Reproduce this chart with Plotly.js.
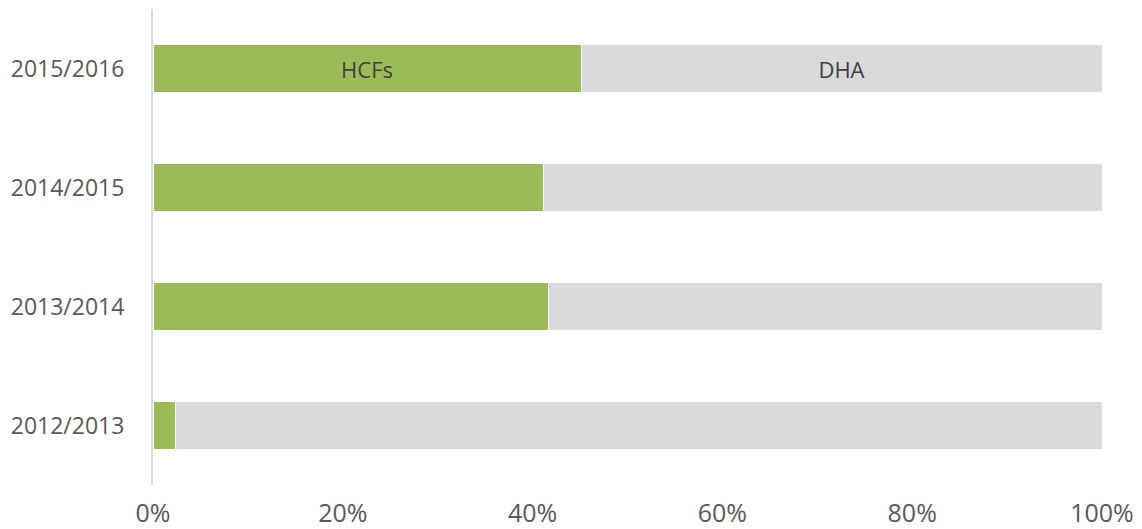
<!DOCTYPE html>
<html>
<head>
<meta charset="utf-8">
<script src="https://cdn.plot.ly/plotly-3.0.1.min.js"></script>
<style>html,body{margin:0;padding:0;background:#fff;}#chart{width:1142px;height:529px;}</style>
</head>
<body>
<div id="chart"></div>
<script>
const years = ["2012/2013", "2013/2014", "2014/2015", "2015/2016"];
const hcfs = [2.4, 41.7, 41.1, 45.1];
const dha = [97.6, 58.3, 58.9, 54.9];
const hcfsLabels = ["", "", "", "HCFs"];
const dhaLabels = ["", "", "", "DHA"];
const xTicks = [0, 20, 40, 60, 80, 100];

const font = "Open Sans, Segoe UI, sans-serif";

const traces = [
  {
    type: "bar", orientation: "h", name: "HCFs",
    y: years, x: hcfs, text: hcfsLabels,
    textposition: "inside", insidetextanchor: "middle",
    textfont: {family: font, size: 22, color: "#404040"},
    marker: {color: "#9bbb59", line: {color: "#ffffff", width: 1}},
    hoverinfo: "x+y+name"
  },
  {
    type: "bar", orientation: "h", name: "DHA",
    y: years, x: dha, text: dhaLabels,
    textposition: "inside", insidetextanchor: "middle",
    textfont: {family: font, size: 22, color: "#404040"},
    marker: {color: "#d9d9d9", line: {color: "#ffffff", width: 1}},
    hoverinfo: "x+y+name"
  }
];

const layout = {
  width: 1142, height: 529,
  margin: {l: 153, r: 40, t: 9, b: 44},
  barmode: "stack", bargap: 0.6,
  showlegend: false,
  paper_bgcolor: "#ffffff", plot_bgcolor: "#ffffff",
  xaxis: {
    range: [0, 100], tickvals: xTicks, ticktext: xTicks.map(v => v + "%"),
    showgrid: false, zeroline: false, showline: false, ticks: "",
    tickfont: {family: font, size: 25, color: "#595959"},
    ticklabelstandoff: 11, fixedrange: true
  },
  yaxis: {
    type: "category", showgrid: false, zeroline: false,
    showline: true, linecolor: "#d9d9d9", linewidth: 2, ticks: "",
    tickfont: {family: font, size: 23, color: "#595959"},
    ticklabelstandoff: 22, fixedrange: true
  }
};

Plotly.newPlot("chart", traces, layout, {displayModeBar: false, staticPlot: true});
</script>
</body>
</html>
